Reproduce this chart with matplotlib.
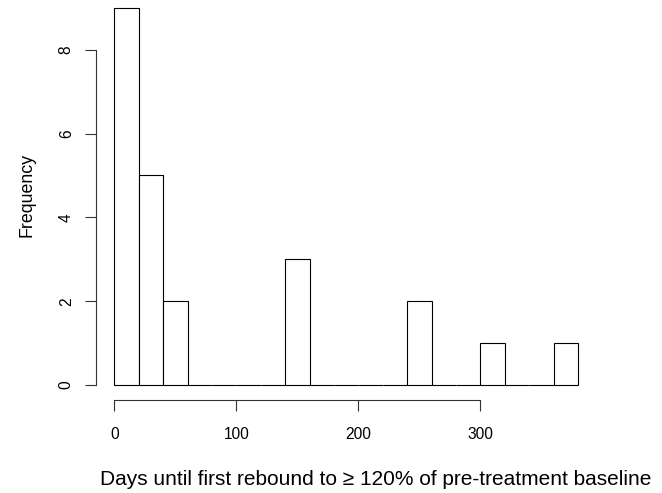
import matplotlib
matplotlib.use("Agg")
import matplotlib.pyplot as plt

# histogram bins (width 20 days) and counts
bin_left = [0, 20, 40, 60, 80, 100, 120, 140, 160, 180, 200, 220, 240, 260, 280, 300, 320, 340, 360]
counts = [9, 5, 2, 0, 0, 0, 0, 3, 0, 0, 0, 0, 2, 0, 0, 1, 0, 0, 1]
bin_width = 20
x_ticks = [0, 100, 200, 300]
y_ticks = [0, 2, 4, 6, 8]

plt.rcParams['font.family'] = ['Liberation Sans', 'DejaVu Sans']
plt.rcParams['font.size'] = 11.2

fig = plt.figure(figsize=(6.62, 4.93), dpi=100)
W, H = 662, 493
# plot region in pixels (R-style 4% padding around the data range)
left, right, bottom, top = 95.75, 596.5, 400.1, -7.2
ax = fig.add_axes([left / W, 1 - bottom / H, (right - left) / W, (bottom - top) / H])

ax.bar(bin_left, counts, width=bin_width, align='edge', color='white',
       edgecolor='black', linewidth=0.8)

ax.set_xlim(-15.2, 395.2)
ax.set_ylim(-0.36, 9.36)

for s in ['top', 'right']:
    ax.spines[s].set_visible(False)
ax.spines['left'].set_bounds(0, 8)
ax.spines['bottom'].set_bounds(0, 300)
for s in ['left', 'bottom']:
    ax.spines[s].set_linewidth(0.8)
    ax.spines[s].set_color('#333333')

ax.set_xticks(x_ticks)
ax.set_yticks(y_ticks)
ax.tick_params(axis='both', length=7.8, width=0.8, color='#333333')
ax.tick_params(axis='x', pad=11.5)
ax.tick_params(axis='y', pad=8)
for lab in ax.get_yticklabels():
    lab.set_rotation(90)
    lab.set_va('center')

fig.text(376 / W, 1 - 485 / H, 'Days until first rebound to \u2265 120% of pre-treatment baseline',
         ha='center', va='baseline', fontsize=15)
fig.text(27 / W, 1 - 195 / H, 'Frequency', rotation=90, ha='center', va='center',
         fontsize=12.8)

fig.savefig('out.png', dpi=100)
